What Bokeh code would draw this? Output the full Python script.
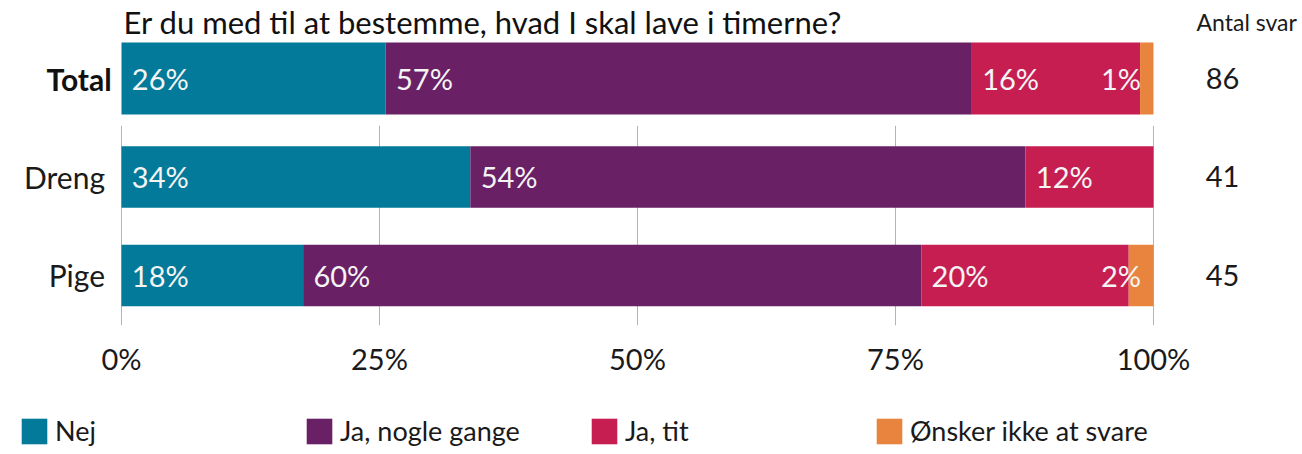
from bokeh.plotting import figure
from bokeh.layouts import column
from bokeh.models import (Range1d, FixedTicker, Legend, LegendItem, Label,
                          ColumnDataSource)
from bokeh.core.properties import value
from bokeh.embed import file_html
from bokeh.resources import INLINE

# ---------------- data ----------------
title_text = "Er du med til at bestemme, hvad I skal lave i timerne?"
count_header = "Antal svar"
categories = ["Total", "Dreng", "Pige"]
series_names = ["Nej", "Ja, nogle gange", "Ja, tit", "Ønsker ikke at svare"]
nej = [25.6, 33.8, 17.6]
ja_nogle_gange = [56.8, 53.8, 59.9]
ja_tit = [16.3, 12.4, 20.1]
oensker_ikke = [1.3, 0.0, 2.4]
counts = [86, 41, 45]
ticks = [0, 25, 50, 75, 100]
tick_labels = ["0%", "25%", "50%", "75%", "100%"]

colors = ["#037A99", "#692065", "#C71E52", "#E9843F"]
FONT = "Lato"
TXT = "#1a1a1a"

# row positions (top row first), derived from the category order
n = len(categories)
rows = [float(n - 1 - i) for i in range(n)]
heights = [0.73 if c == "Total" else 0.625 for c in categories]

W = 1302
MAIN_H = 385
LEG_H = 454 - MAIN_H

# ---------------- main figure ----------------
p = figure(width=W, height=MAIN_H, output_backend="svg", toolbar_location=None,
           x_range=Range1d(-11.725, 114.44),
           y_range=Range1d(-0.508, 2.792),
           min_border_left=0, min_border_right=0, min_border_top=0,
           min_border_bottom=MAIN_H - 325)
p.outline_line_color = None
p.xgrid.visible = False
p.ygrid.visible = False
p.yaxis.visible = False

ax = p.xaxis[0]
ax.ticker = FixedTicker(ticks=ticks)
ax.major_label_overrides = {t: l for t, l in zip(ticks, tick_labels)}
ax.axis_line_color = None
ax.major_tick_line_color = None
ax.minor_tick_line_color = None
ax.major_label_text_font = FONT
ax.major_label_text_font_size = "29px"
ax.major_label_text_color = TXT
ax.major_label_standoff = 9

# partial-height vertical gridlines
grid_top = 1.52
p.segment(x0=ticks, x1=ticks, y0=[-0.508] * len(ticks), y1=[grid_top] * len(ticks),
          line_color="#b4b4b4", line_width=1)

# stacked bars with value labels
series = [nej, ja_nogle_gange, ja_tit, oensker_ikke]
left = [0.0] * n
for k, (name, vals, col) in enumerate(zip(series_names, series, colors)):
    right = [l + v for l, v in zip(left, vals)]
    src = ColumnDataSource(dict(y=rows, left=left, right=right, h=heights))
    p.hbar(y="y", left="left", right="right", height="h", source=src,
           fill_color=col, line_color=None)
    keep = [i for i, v in enumerate(vals) if v > 0]
    labels = [f"{round(vals[i])}%" for i in keep]
    last = (k == len(series) - 1)
    xs = [right[i] - 1.2 for i in keep] if last else [left[i] + 1.0 for i in keep]
    p.text(x=xs, y=[rows[i] for i in keep], text=labels,
           text_align="right" if last else "left", text_baseline="middle",
           text_font=value(FONT), text_font_size="29px", text_color="#F4F4F4")
    left = right

# row labels
reg = [i for i, c in enumerate(categories) if c != "Total"]
tot = [i for i, c in enumerate(categories) if c == "Total"]
p.text(x=[-1.6] * len(reg), y=[rows[i] for i in reg], text=[categories[i] for i in reg],
       text_align="right", text_baseline="middle", text_font=value(FONT),
       text_font_size="30px", text_color=TXT)
p.text(x=[-0.95] * len(tot), y=[rows[i] for i in tot], text=[categories[i] for i in tot],
       text_align="right", text_baseline="middle", text_font=value(FONT),
       text_font_size="30px", text_font_style="bold", text_color="#111111")

# counts
p.text(x=[106.7] * n, y=rows, text=[str(c) for c in counts],
       text_align="center", text_baseline="middle", text_font=value(FONT),
       text_font_size="29px", text_color=TXT)

# title & header
p.add_layout(Label(x=0.2, y=2.57, text=title_text, text_font=FONT,
                   text_font_size="31px", text_color="#111111",
                   text_baseline="alphabetic", text_align="left"))
p.add_layout(Label(x=113.9, y=2.57, text=count_header, text_font=FONT,
                   text_font_size="23px", text_color=TXT,
                   text_baseline="alphabetic", text_align="right"))

# ---------------- legend strip ----------------
lg = figure(width=W, height=LEG_H, output_backend="svg", toolbar_location=None,
            x_range=Range1d(0, 1), y_range=Range1d(0, 1),
            x_axis_location=None, y_axis_location=None,
            min_border=0)
lg.outline_line_color = None
lg.xgrid.visible = False
lg.ygrid.visible = False
items = []
for nm, col in zip(series_names, colors):
    # swatch-only renderer: a zero-width bar, so nothing shows in the strip
    r = lg.hbar(y=[0.5], left=[0], right=[0], height=0.5, fill_color=col, line_color=None)
    items.append(LegendItem(label=nm, renderers=[r]))
legend = Legend(items=items, orientation="horizontal", location=(18, 7),
                glyph_width=32, glyph_height=32, label_standoff=5,
                label_width=248, spacing=0, padding=0, margin=0,
                label_text_font=FONT, label_text_font_size="27px",
                label_text_color=TXT,
                border_line_color=None, background_fill_alpha=0)
lg.add_layout(legend, "center")

layout = column(p, lg, spacing=0)
open("out.html", "w").write(file_html(layout, INLINE))
